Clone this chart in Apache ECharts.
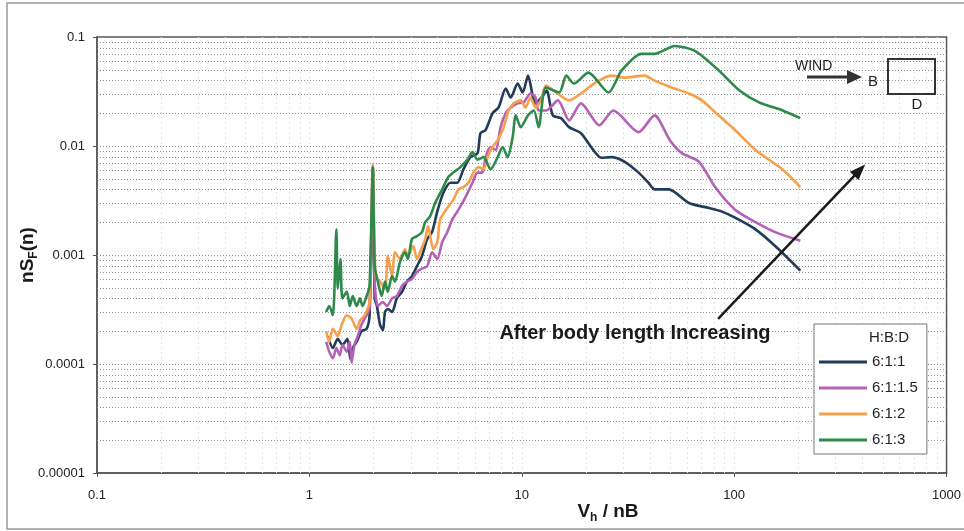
<!DOCTYPE html>
<html><head><meta charset="utf-8">
<script src="https://cdn.jsdelivr.net/npm/echarts@6/dist/echarts.min.js"></script>
<style>html,body{margin:0;padding:0;background:#fff}#c{width:964px;height:531px}</style>
</head><body><div id="c"></div>
<script>
const seriesNames = ['6:1:1', '6:1:1.5', '6:1:2', '6:1:3'];
const legendTitle = 'H:B:D';
const xTickLabels = ['0.1', '1', '10', '100', '1000'];
const yTickLabels = ['0.00001', '0.0001', '0.001', '0.01', '0.1'];
const gridMultipliers = [1, 2, 3, 4, 5, 6, 7, 8, 9];

// H:B:D = 6:1:1
const s611 = [
  [1.22,0.00018],[1.29,0.00014],[1.36,0.00017],[1.43,0.00015],[1.51,0.00017],[1.56,0.00011],[1.60,0.00014],
  [1.67,0.00016],[1.76,0.00020],[1.86,0.00021],[1.92,0.00028],[1.99,0.0045],[2.03,0.00040],
  [2.08,0.00034],[2.15,0.00023],[2.22,0.000204],[2.27,0.00030],[2.34,0.00032],[2.45,0.00030],
  [2.58,0.00040],[2.73,0.00046],[2.88,0.00057],[3.04,0.00064],[3.21,0.00079],[3.39,0.00098],
  [3.59,0.00140],[3.78,0.00162],[4.00,0.0025],[4.27,0.0037],[4.61,0.0046],[4.97,0.0046],
  [5.31,0.0061],[5.73,0.0079],[6.19,0.0086],[6.39,0.0131],[6.75,0.0140],[7.29,0.0200],
  [7.78,0.0226],[8.40,0.0337],[8.87,0.0279],[9.57,0.0374],[10.1,0.0310],[10.7,0.0442],
  [11.3,0.0279],[11.6,0.0246],[12.6,0.0291],[13.1,0.0323],[14.0,0.0191],[15.3,0.0180],
  [16.7,0.0149],[19.0,0.0131],[21.2,0.0098],[23.7,0.0078],[26.4,0.0079],[30.4,0.0072],
  [35.5,0.0057],[39.5,0.0046],[42.2,0.0040],[49.2,0.0040],[61.2,0.0030],[76.1,0.0027],
  [87.7,0.0025],[101,0.0022],[126,0.00172],[156,0.00121],[205,0.00072]
];
// H:B:D = 6:1:1.5
const s6115 = [
  [1.20,0.00016],[1.24,0.00013],[1.29,0.000113],[1.34,0.00014],[1.39,0.00012],[1.43,0.00015],
  [1.50,0.00013],[1.55,0.00016],[1.58,0.000103],[1.63,0.00015],[1.69,0.00018],[1.76,0.00023],
  [1.86,0.00028],[1.92,0.00032],[1.99,0.0064],[2.03,0.00057],[2.10,0.00034],[2.22,0.00037],
  [2.32,0.00034],[2.45,0.00040],[2.58,0.00042],[2.73,0.00052],[2.88,0.00057],[3.04,0.00060],
  [3.21,0.00070],[3.39,0.00075],[3.59,0.00079],[3.78,0.00106],[4.00,0.00092],[4.22,0.00131],
  [4.46,0.00162],[4.71,0.00212],[4.97,0.0025],[5.25,0.0030],[5.55,0.0037],[5.86,0.0046],
  [6.19,0.0057],[6.53,0.0057],[6.75,0.0079],[7.13,0.0098],[7.53,0.0092],[7.95,0.0149],
  [8.40,0.0200],[8.87,0.0226],[9.57,0.0246],[10.2,0.0251],[11.0,0.0303],[11.6,0.0279],
  [12.0,0.0212],[13.0,0.0212],[14.8,0.0262],[16.7,0.0172],[19.0,0.0246],[23.2,0.0155],
  [27.0,0.0212],[35.5,0.0134],[42.2,0.0191],[49.8,0.0113],[56.7,0.0086],[68.2,0.0072],
  [81.3,0.0042],[101,0.0026],[126,0.0020],[156,0.00162],[205,0.00135]
];
// H:B:D = 6:1:2
const s612 = [
  [1.20,0.00020],[1.24,0.00016],[1.29,0.00021],[1.36,0.00018],[1.42,0.00023],[1.50,0.00028],
  [1.58,0.00026],[1.67,0.00021],[1.73,0.00025],[1.82,0.00028],[1.92,0.00037],[1.99,0.0068],
  [2.05,0.00064],[2.15,0.00057],[2.27,0.00049],[2.34,0.00098],[2.45,0.00064],[2.53,0.00106],
  [2.67,0.00092],[2.82,0.00113],[2.91,0.00098],[3.08,0.00121],[3.21,0.00092],[3.32,0.00106],
  [3.51,0.00140],[3.62,0.00184],[3.83,0.00113],[4.00,0.00131],[4.13,0.00212],[4.46,0.0027],
  [4.76,0.0032],[5.03,0.0040],[5.31,0.0042],[5.61,0.0046],[5.92,0.0057],[6.25,0.0064],
  [6.61,0.0061],[6.90,0.0079],[7.29,0.0098],[7.70,0.0113],[8.13,0.0140],[8.40,0.0172],
  [8.67,0.0212],[9.16,0.0246],[9.89,0.0262],[10.4,0.0226],[11.0,0.0279],[11.6,0.0226],
  [12.3,0.0262],[13.0,0.0359],[14.5,0.0310],[16.7,0.0262],[19.0,0.0303],[21.9,0.0374],
  [26.4,0.0442],[30.4,0.0424],[37.8,0.0442],[42.2,0.0398],[50.8,0.0344],[61.2,0.0303],
  [70.5,0.0262],[81.3,0.0204],[101,0.0140],[126,0.0092],[169,0.0061],[205,0.0042]
];
// H:B:D = 6:1:3
const s613 = [
  [1.20,0.00030],[1.24,0.00034],[1.29,0.00028],[1.34,0.00172],[1.36,0.00049],[1.40,0.00092],
  [1.43,0.00040],[1.50,0.00046],[1.55,0.00034],[1.60,0.00042],[1.67,0.00034],[1.73,0.00040],
  [1.78,0.00034],[1.86,0.00042],[1.92,0.00052],[1.99,0.0064],[2.03,0.00079],[2.10,0.00057],
  [2.19,0.00042],[2.27,0.00057],[2.34,0.00046],[2.45,0.00064],[2.53,0.00057],[2.67,0.00086],
  [2.82,0.00106],[2.91,0.00092],[3.04,0.00140],[3.21,0.00149],[3.39,0.00162],[3.51,0.0020],
  [3.70,0.00226],[3.91,0.0030],[4.22,0.0040],[4.51,0.0052],[4.76,0.0057],[5.14,0.0064],
  [5.55,0.0075],[5.86,0.0088],[6.19,0.0075],[6.61,0.0079],[7.13,0.0061],[7.70,0.0079],
  [8.13,0.0098],[8.58,0.0079],[9.06,0.0121],[9.37,0.0191],[9.89,0.0149],[10.7,0.0191],
  [11.4,0.0212],[12.0,0.0149],[13.0,0.0344],[15.0,0.0310],[16.2,0.0442],[17.6,0.0374],
  [20.6,0.0471],[25.6,0.0310],[29.5,0.0491],[36.6,0.0700],[42.2,0.0700],[52.5,0.0828],
  [65.3,0.0746],[84.9,0.0491],[106,0.0323],[131,0.0251],[169,0.0212],[205,0.0180]
];

const seriesData = [s611, s6115, s612, s613];
const seriesColors = ['#213c58', '#b462b8', '#f5a04a', '#2e8a4b'];
const annotationText = 'After body length Increasing';
const arrowStart = [84, 0.00026];
const arrowEnd = [390, 0.0060];

const xMin = parseFloat(xTickLabels[0]), xMax = parseFloat(xTickLabels[xTickLabels.length - 1]);
const yMin = parseFloat(yTickLabels[0]), yMax = parseFloat(yTickLabels[yTickLabels.length - 1]);

function gridValues(labels, lo, hi) {
  const out = [];
  for (let i = 0; i < labels.length - 1; i++) {
    const base = parseFloat(labels[i]);
    gridMultipliers.forEach(k => {
      const v = k * base;
      if (v > lo * 1.0001 && v < hi * 0.9999) out.push(v);
    });
  }
  return out;
}
const yGridVals = gridValues(yTickLabels, yMin, yMax);
const xGridVals = gridValues(xTickLabels, xMin, xMax);

function labelFor(labels) {
  return function (v) {
    const t = labels.find(s => Math.abs(Math.log10(parseFloat(s)) - Math.log10(v)) < 1e-6);
    return t || '';
  };
}

const FONT = '"Liberation Sans", Arial, sans-serif';
const chart = echarts.init(document.getElementById('c'), null, { renderer: 'canvas' });

const series = [
  {
    name: 'xgrid', type: 'custom', silent: true, z: 1,
    data: xGridVals.map(v => [v, yMin]),
    renderItem: function (params, api) {
      const p = api.coord([api.value(0), yMin]);
      const cs = params.coordSys;
      const x = Math.round(p[0]) + 0.5;
      return { type: 'line', silent: true, shape: { x1: x, y1: cs.y, x2: x, y2: cs.y + cs.height },
        style: { stroke: '#e4e4e4', lineWidth: 1, lineDash: [2, 3] } };
    }
  },
  {
    name: 'ygrid', type: 'custom', silent: true, z: 1,
    data: yGridVals.map(v => [xMin, v]),
    renderItem: function (params, api) {
      const p = api.coord([xMin, api.value(1)]);
      const cs = params.coordSys;
      const y = Math.round(p[1]) + 0.5;
      return { type: 'line', silent: true, shape: { x1: cs.x, y1: y, x2: cs.x + cs.width, y2: y },
        style: { stroke: '#8f8f8f', lineWidth: 1, lineDash: [1, 2] } };
    }
  }
];
seriesNames.forEach((n, i) => {
  series.push({
    name: n, type: 'line', data: seriesData[i], showSymbol: false, smooth: 0.25, z: 3,
    lineStyle: { color: seriesColors[i], width: 2.6 }, itemStyle: { color: seriesColors[i] }
  });
});
series.push({
  name: 'arrow', type: 'line', data: [], z: 5, silent: true,
  markLine: {
    silent: true, animation: false, symbol: ['none', 'triangle'], symbolSize: [12, 16],
    label: { show: false },
    lineStyle: { color: '#1a1a1a', width: 2.5, type: 'solid' },
    data: [[{ coord: arrowStart }, { coord: arrowEnd }]]
  }
});

const option = {
  animation: false,
  backgroundColor: '#ffffff',
  grid: { left: 97, right: 17, top: 37, bottom: 58, show: true, borderColor: '#555', borderWidth: 1.5, backgroundColor: 'transparent' },
  xAxis: {
    type: 'log', logBase: 10, min: xMin, max: xMax,
    axisLine: { show: true, lineStyle: { color: '#555', width: 1.5 } },
    axisTick: { show: true, length: 4, lineStyle: { color: '#555' } },
    splitLine: { show: false },
    minorTick: { show: false }, minorSplitLine: { show: false },
    axisLabel: { formatter: labelFor(xTickLabels), color: '#222', fontSize: 13, fontFamily: FONT, margin: 16 }
  },
  yAxis: {
    type: 'log', logBase: 10, min: yMin, max: yMax,
    name: '{a|nS}{s|F}{a|(n)}', nameLocation: 'middle', nameGap: 57, nameRotate: 90,
    nameMoveOverlap: false,
    nameTextStyle: {
      rich: {
        a: { fontSize: 19, fontWeight: 'bold', color: '#1a1a1a', fontFamily: FONT, lineHeight: 24, verticalAlign: 'middle' },
        s: { fontSize: 12, fontWeight: 'bold', color: '#1a1a1a', fontFamily: FONT, lineHeight: 24, verticalAlign: 'bottom' }
      }
    },
    axisLine: { show: true, lineStyle: { color: '#555', width: 1.5 } },
    axisTick: { show: true, length: 4, lineStyle: { color: '#555' } },
    splitLine: { show: false },
    axisLabel: { formatter: labelFor(yTickLabels), color: '#222', fontSize: 13, fontFamily: FONT, margin: 12 }
  },
  legend: {
    data: seriesNames, orient: 'vertical', left: 814, top: 324,
    icon: 'rect', itemWidth: 48, itemHeight: 3, itemGap: 10,
    padding: [30, 9, 6, 5],
    backgroundColor: '#fff', borderColor: '#777', borderWidth: 1, borderRadius: 0,
    textStyle: { fontSize: 15, color: '#222', fontFamily: FONT, lineHeight: 16 },
    selectedMode: false
  },
  graphic: [
    { type: 'rect', shape: { x: 7, y: 3, width: 990, height: 526 }, style: { fill: 'none', stroke: '#9a9a9a', lineWidth: 1.5 }, silent: true, z: 0 },
    { type: 'text', left: 869, top: 330, style: { text: legendTitle, fontSize: 15, fill: '#222', fontFamily: FONT }, z: 20 },
    { type: 'text', x: 635, y: 333, style: { text: annotationText, fontSize: 20, fontWeight: 'bold', fill: '#1a1a1a', fontFamily: FONT, align: 'center', verticalAlign: 'middle' }, z: 20 },
    { type: 'text', x: 608, y: 512, style: {
        text: '{a|V}{s|h}{a| / nB}', align: 'center', verticalAlign: 'middle',
        rich: {
          a: { fontSize: 19, fontWeight: 'bold', fill: '#1a1a1a', fontFamily: FONT, lineHeight: 24, verticalAlign: 'middle' },
          s: { fontSize: 12, fontWeight: 'bold', fill: '#1a1a1a', fontFamily: FONT, lineHeight: 24, verticalAlign: 'bottom' }
        } }, z: 20 },
    { type: 'text', left: 795, top: 59, style: { text: 'WIND', fontSize: 14, fill: '#222', fontFamily: FONT }, z: 20 },
    { type: 'line', shape: { x1: 807, y1: 77, x2: 850, y2: 77 }, style: { stroke: '#333', lineWidth: 3 }, z: 20 },
    { type: 'polygon', shape: { points: [[847, 70], [862, 77], [847, 84]] }, style: { fill: '#333' }, z: 20 },
    { type: 'text', x: 873, y: 82, style: { text: 'B', fontSize: 15, fill: '#222', fontFamily: FONT, align: 'center', verticalAlign: 'middle' }, z: 20 },
    { type: 'rect', shape: { x: 888, y: 59, width: 47, height: 35 }, style: { fill: 'none', stroke: '#333', lineWidth: 2 }, z: 20 },
    { type: 'text', x: 917, y: 105, style: { text: 'D', fontSize: 15, fill: '#222', fontFamily: FONT, align: 'center', verticalAlign: 'middle' }, z: 20 }
  ],
  series: series
};
chart.setOption(option);
</script>
</body></html>
